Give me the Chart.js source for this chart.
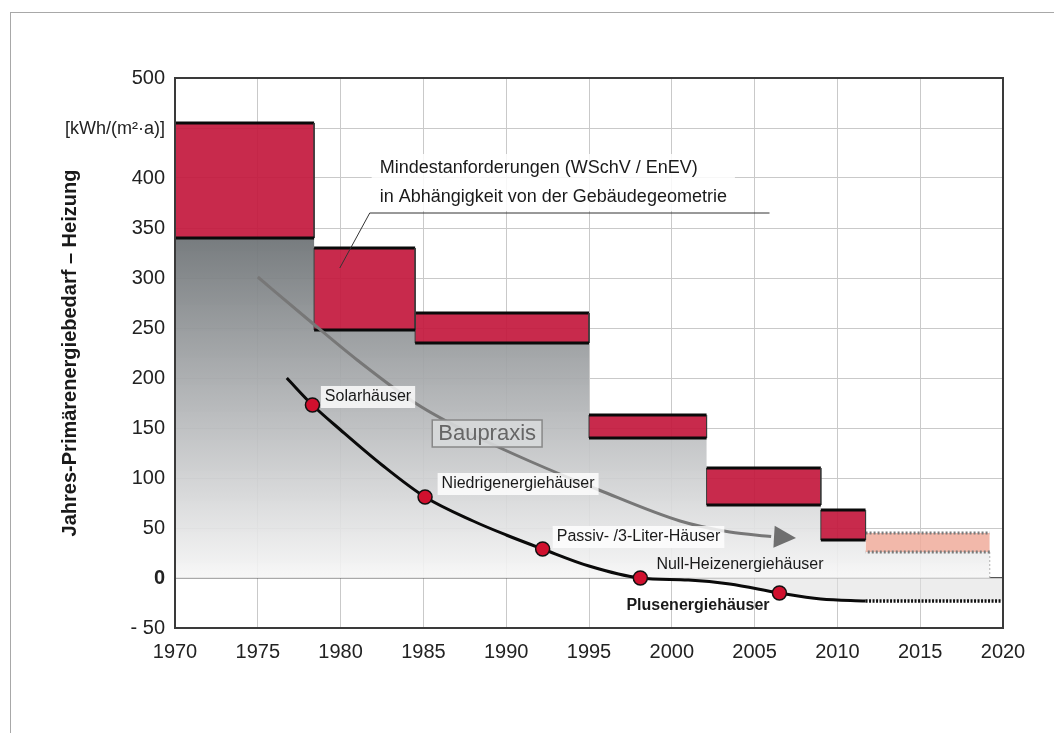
<!DOCTYPE html>
<html>
<head>
<meta charset="utf-8">
<script src="https://cdn.jsdelivr.net/npm/chart.js@4/dist/chart.umd.min.js"></script>
<style>
  html, body { margin: 0; padding: 0; background: #fff; }
  #wrap { position: relative; width: 1054px; height: 733px; }
  #frame { position: absolute; left: 10px; top: 12px; width: 1100px; height: 800px;
           border-left: 1.5px solid #a8a8a8; border-top: 1.5px solid #a8a8a8; pointer-events: none; }
  canvas { position: absolute; left: 0; top: 0; }
</style>
</head>
<body>
<div id="wrap">
  <canvas id="c" width="1054" height="733"></canvas>
  <div id="frame"></div>
</div>
<script>
// ---- data ----
const periodStart = [1970, 1978.4, 1984.5, 1995, 2002.1, 2009];
const periodEnd   = [1978.4, 1984.5, 1995, 2002.1, 2009, 2011.7];
const reqHigh     = [455, 330, 265, 163, 110, 68];
const reqLow      = [340, 248, 235, 140, 73, 38];
const futureStart = 2011.7, futureEnd = 2019.2, futureLow = 26, futureHigh = 45;

const practiceYears  = [1975, 1978, 1981, 1984.6, 1988, 1991.4, 1995.6, 2000.5, 2003.5, 2006];
const practiceValues = [301, 259, 218, 174, 143, 117, 88, 57, 46, 41.5];
const practiceArrowTip = [2007.5, 40];

const bestYears  = [1976.75, 1978.3, 1980, 1982.5, 1985.1, 1988, 1990, 1992.2, 1995, 1998.1, 2001, 2003.5, 2006.5, 2009, 2011.7];
const bestValues = [200, 173, 148, 113, 81, 57, 43, 29, 12, 0, -2, -6, -15, -21, -23];
const bestFutureYears  = [2011.7, 2020];
const bestFutureValues = [-23, -23];

const milestoneNames  = ['Solarhäuser', 'Niedrigenergiehäuser', 'Passiv- /3-Liter-Häuser', 'Null-Heizenergiehäuser', 'Plusenergiehäuser'];
const milestoneYears  = [1978.3, 1985.1, 1992.2, 1998.1, 2006.5];
const milestoneValues = [173, 81, 29, 0, -15];

const xTickValues = [1970, 1975, 1980, 1985, 1990, 1995, 2000, 2005, 2010, 2015, 2020];
const yTickValues = [-50, 0, 50, 100, 150, 200, 250, 300, 350, 400, 450, 500];
const yTickLabels = ['- 50', '0', '50', '100', '150', '200', '250', '300', '350', '400', '', '500'];
const yUnitLabel = '[kWh/(m²·a)]';
const yTitle = 'Jahres-Primärenergiebedarf – Heizung';
const reqTitle = ['Mindestanforderungen (WSchV / EnEV)', 'in Abhängigkeit von der Gebäudegeometrie'];
const practiceTitle = 'Baupraxis';

// ---- label placement (data units) ----
const milestoneLabelPos = [[1979.05, 181], [1986.1, 94], [1993.05, 41], [1999.07, 13], [1997.26, -28]];
const reqTitlePos = [1982.36, 410, 381];
const reqLeader = [[2005.9, 365], [1981.76, 365], [1979.95, 310]];
const practiceLabelPos = [1988.85, 145];

const FONT = "'Liberation Sans', Arial, sans-serif";
const RED = 'rgba(196, 26, 62, 0.93)';

// ---- build datasets ----
const datasets = [];

// practice area (gray step area)
const stepPts = periodStart.map((s, i) => ({x: s, y: reqLow[i]}));
stepPts.push({x: futureStart, y: futureLow});
stepPts.push({x: futureEnd, y: futureLow});
datasets.push({
  label: 'area', data: stepPts, stepped: true, borderWidth: 0, pointRadius: 0, order: 20,
  fill: 'origin',
  backgroundColor: (ctx) => {
    const ch = ctx.chart; const ca = ch.chartArea;
    if (!ca) return 'rgba(150,150,150,0.8)';
    const ys = ch.scales.y;
    const g = ch.ctx.createLinearGradient(0, ys.getPixelForValue(340), 0, ys.getPixelForValue(0));
    g.addColorStop(0, 'rgba(112,117,120,0.95)');
    g.addColorStop(0.55, 'rgba(185,187,189,0.92)');
    g.addColorStop(1, 'rgba(246,246,246,0.9)');
    return g;
  }
});
// dotted right edge of future area
datasets.push({ label: 'edge', data: [{x: futureEnd, y: futureLow}, {x: futureEnd, y: 0}],
  borderColor: '#b0b0b0', borderWidth: 1, borderDash: [2, 2], pointRadius: 0, fill: false, order: 15 });

// below-zero light shading above plus-energy curve
datasets.push({ label: 'neg', data: bestYears.map((x, i) => ({x, y: bestValues[i]})).concat([{x: 2020, y: -23}]),
  borderWidth: 0, pointRadius: 0, cubicInterpolationMode: 'monotone', order: 19,
  fill: {target: 'origin', above: 'rgba(0,0,0,0)', below: 'rgba(225,225,225,0.6)'} });

// requirement rectangles: fill (top edge filled down to low value) + outline
function rect(x1, x2, lo, hi) {
  return [{x: x1, y: lo}, {x: x1, y: hi}, {x: x2, y: hi}, {x: x2, y: lo}, {x: x1, y: lo}];
}
periodStart.forEach((s, i) => {
  datasets.push({
    label: 'reqFill' + i, data: [{x: s, y: reqHigh[i]}, {x: periodEnd[i], y: reqHigh[i]}],
    backgroundColor: RED, borderWidth: 0, pointRadius: 0, fill: {value: reqLow[i]}, order: 11
  });
  datasets.push({
    label: 'req' + i, data: rect(s, periodEnd[i], reqLow[i], reqHigh[i]),
    fill: false, pointRadius: 0, tension: 0, order: 10,
    borderColor: '#111',
    segment: {
      borderWidth: (c) => c.p0.parsed.y === c.p1.parsed.y ? 3 : 1,
      borderColor: (c) => c.p0.parsed.y === c.p1.parsed.y ? '#0a0a0a' : '#3a3a3a'
    }
  });
});
// future target box
datasets.push({
  label: 'futureFill', data: [{x: futureStart, y: futureHigh}, {x: futureEnd, y: futureHigh}],
  backgroundColor: 'rgba(240, 172, 155, 0.85)', borderWidth: 0, pointRadius: 0, fill: {value: futureLow}, order: 11
});
datasets.push({
  label: 'future', data: rect(futureStart, futureEnd, futureLow, futureHigh),
  fill: false, pointRadius: 0, tension: 0, order: 10,
  borderColor: '#777', borderWidth: 3, borderDash: [2, 2],
  segment: { borderColor: (c) => c.p0.parsed.y === c.p1.parsed.y ? '#7a7a7a' : 'rgba(0,0,0,0)' }
});

// building practice curve
datasets.push({
  label: 'practice', data: practiceYears.map((x, i) => ({x, y: practiceValues[i]})),
  borderColor: '#777', borderWidth: 3, pointRadius: 0, fill: false,
  cubicInterpolationMode: 'monotone', order: 6
});
// best practice curve
datasets.push({
  label: 'best', data: bestYears.map((x, i) => ({x, y: bestValues[i]})),
  borderColor: '#0a0a0a', borderWidth: 3, pointRadius: 0, fill: false,
  cubicInterpolationMode: 'monotone', order: 5
});
datasets.push({
  label: 'bestFuture', data: bestFutureYears.map((x, i) => ({x, y: bestFutureValues[i]})),
  borderColor: '#111', borderWidth: 3.5, borderDash: [2, 1.5], pointRadius: 0, fill: false, order: 5
});
// milestones
datasets.push({
  label: 'milestones', type: 'scatter', data: milestoneYears.map((x, i) => ({x, y: milestoneValues[i]})),
  backgroundColor: '#d0102e', borderColor: '#111', borderWidth: 1.5, pointRadius: 7, order: 1
});

// ---- annotations plugin ----
const annot = {
  id: 'annot',
  afterDatasetsDraw(chart) {
    const c = chart.ctx, xs = chart.scales.x, ys = chart.scales.y, ca = chart.chartArea;
    const px = (v) => xs.getPixelForValue(v), py = (v) => ys.getPixelForValue(v);
    c.save();
    // arrow head of practice curve
    const n = practiceYears.length;
    const tx = px(practiceArrowTip[0]), ty = py(practiceArrowTip[1]);
    const bx = px(practiceYears[n - 1]), by = py(practiceValues[n - 1]);
    const ang = Math.atan2(ty - by, tx - bx);
    c.fillStyle = '#6f6f6f';
    c.beginPath();
    c.moveTo(tx, ty);
    c.lineTo(tx - 22 * Math.cos(ang) + 11 * Math.sin(ang), ty - 22 * Math.sin(ang) - 11 * Math.cos(ang));
    c.lineTo(tx - 22 * Math.cos(ang) - 11 * Math.sin(ang), ty - 22 * Math.sin(ang) + 11 * Math.cos(ang));
    c.closePath(); c.fill();

    // milestone labels
    c.textBaseline = 'middle'; c.textAlign = 'left';
    milestoneNames.forEach((t, i) => {
      const bold = i === 4;
      c.font = (bold ? 'bold ' : '') + '16px ' + FONT;
      const x = px(milestoneLabelPos[i][0]), y = py(milestoneLabelPos[i][1]);
      const w = c.measureText(t).width;
      if (i < 3) { c.fillStyle = 'rgba(255,255,255,0.82)'; c.fillRect(x - 4, y - 11, w + 8, 22); }
      c.fillStyle = '#1a1a1a';
      c.fillText(t, x, y);
    });

    // Baupraxis box
    c.font = '22px ' + FONT;
    const bpx = px(practiceLabelPos[0]), bpy = py(practiceLabelPos[1]);
    const bw = c.measureText(practiceTitle).width;
    c.fillStyle = 'rgba(215,217,218,0.9)';
    c.fillRect(bpx - bw / 2 - 6, bpy - 13, bw + 12, 27);
    c.strokeStyle = '#888'; c.lineWidth = 1.5;
    c.strokeRect(bpx - bw / 2 - 6, bpy - 13, bw + 12, 27);
    c.fillStyle = '#666'; c.textAlign = 'center';
    c.fillText(practiceTitle, bpx, bpy + 1);

    // requirement title
    c.font = '18px ' + FONT; c.textAlign = 'left';
    const rx = px(reqTitlePos[0]);
    const rw = Math.max(...reqTitle.map(t => c.measureText(t).width));
    c.fillStyle = 'rgba(255,255,255,0.85)';
    c.fillRect(rx - 8, py(reqTitlePos[1]) - 14, rw + 16, py(reqTitlePos[2]) - py(reqTitlePos[1]) + 28);
    c.fillStyle = '#1a1a1a';
    c.fillText(reqTitle[0], rx, py(reqTitlePos[1]));
    c.fillText(reqTitle[1], rx, py(reqTitlePos[2]));
    c.strokeStyle = '#333'; c.lineWidth = 1;
    c.beginPath();
    reqLeader.forEach((p, i) => i ? c.lineTo(px(p[0]), py(p[1])) : c.moveTo(px(p[0]), py(p[1])));
    c.stroke();

    // unit label
    c.font = '18px ' + FONT; c.textAlign = 'right'; c.fillStyle = '#222';
    c.fillText(yUnitLabel, ca.left - 10, py(450) + 1);

    // plot frame
    c.strokeStyle = '#3a3a3a'; c.lineWidth = 2;
    c.strokeRect(ca.left, ca.top, ca.right - ca.left, ca.bottom - ca.top);
    c.restore();
  }
};

new Chart(document.getElementById('c'), {
  type: 'line',
  data: { datasets },
  plugins: [annot],
  options: {
    responsive: false, animation: false, events: [],
    layout: { padding: { left: 58, top: 78, right: 51, bottom: 0 } },
    plugins: { legend: { display: false }, tooltip: { enabled: false } },
    scales: {
      x: {
        type: 'linear', min: 1970, max: 2020,
        afterBuildTicks: (s) => { s.ticks = xTickValues.map(v => ({value: v})); },
        afterFit: (s) => { s.height = 105; },
        grid: { color: '#c9c9c9', lineWidth: 1, drawTicks: false },
        border: { display: false },
        ticks: { color: '#222', padding: 12, font: { family: FONT, size: 20 }, maxRotation: 0,
                 callback: (v) => String(v) }
      },
      y: {
        type: 'linear', min: -50, max: 500,
        afterBuildTicks: (s) => { s.ticks = yTickValues.map(v => ({value: v})); },
        afterFit: (s) => { s.width = 117; },
        grid: { drawTicks: false, lineWidth: (c) => c.tick && c.tick.value === 0 ? 1.5 : 1,
                color: (c) => c.tick && c.tick.value === 0 ? '#555' : '#c9c9c9' },
        border: { display: false },
        ticks: { color: '#222', padding: 10,
                 font: (c) => ({ family: FONT, size: 20, weight: c.tick && c.tick.value === 0 ? 'bold' : 'normal' }),
                 callback: (v) => { const i = yTickValues.indexOf(v); return i >= 0 ? yTickLabels[i] : ''; } },
        title: { display: true, text: yTitle, color: '#1a1a1a', padding: { top: 0, bottom: 18 },
                 font: { family: FONT, size: 20, weight: 'bold' } }
      }
    }
  }
});
</script>
</body>
</html>
